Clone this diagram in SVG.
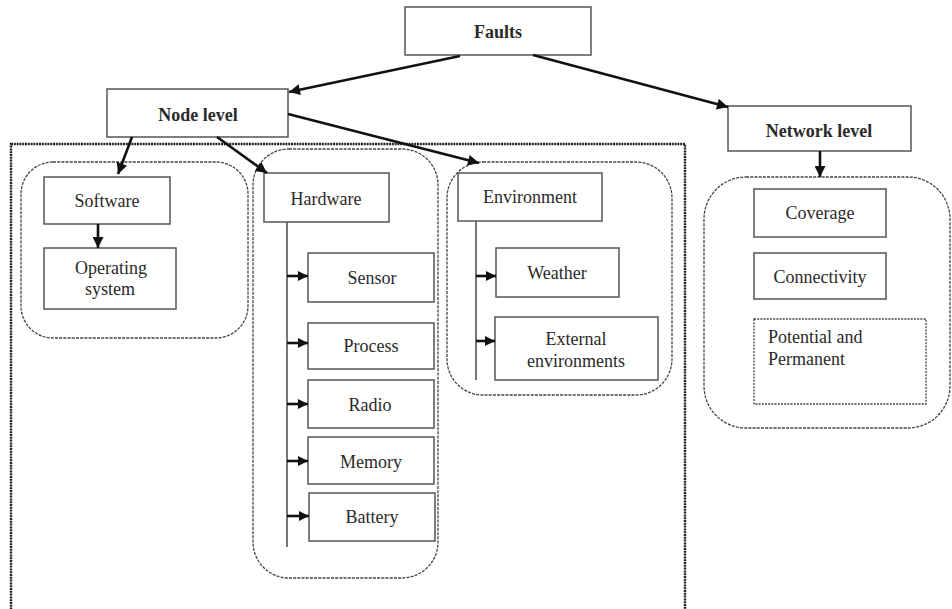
<svg xmlns="http://www.w3.org/2000/svg" width="952" height="609" viewBox="0 0 952 609" font-family="'Liberation Serif', 'DejaVu Serif', serif">
<style>
.box{fill:#fff;stroke:#555;stroke-width:1.5}
.grp{fill:none;stroke:#444;stroke-width:1.3;stroke-dasharray:3 1.2}
.outer{fill:none;stroke:#222;stroke-width:2.4;stroke-dasharray:2 0.8}
.dbox{fill:#fff;stroke:#444;stroke-width:1.3;stroke-dasharray:2 1.2}
text{font-family:'Liberation Serif','DejaVu Serif',serif}
.t{font-size:18px;fill:#2a2a2a;text-anchor:middle}
.b{font-weight:bold}
.l{text-anchor:start}
.c{stroke:#111;stroke-width:2.6;fill:none;marker-end:url(#ah)}
.c2{stroke:#111;stroke-width:2.6;fill:none;marker-end:url(#ah2)}
.v{stroke:#555;stroke-width:1.6;fill:none}
</style>
<defs>
<marker id="ah" viewBox="0 0 10 10" refX="10" refY="5" markerWidth="13" markerHeight="11" markerUnits="userSpaceOnUse" orient="auto"><path d="M0,0 L10,5 L0,10 z" fill="#111"/></marker>
<marker id="ah2" viewBox="0 0 10 10" refX="10" refY="5" markerWidth="10" markerHeight="10" markerUnits="userSpaceOnUse" orient="auto"><path d="M0,0 L10,5 L0,10 z" fill="#111"/></marker>
</defs>

<rect class="outer" x="11" y="144" width="674" height="480"/>

<g id="faults"><rect class="box" x="405" y="7" width="186" height="48"/><text class="t b" x="498" y="38">Faults</text></g>
<g id="node-level"><rect class="box" x="107" y="89" width="181" height="48"/><text class="t b" x="198" y="121">Node level</text></g>
<g id="network-level"><rect class="box" x="728" y="106" width="183" height="45"/><text class="t b" x="819" y="137">Network level</text></g>

<g id="software-group"><rect class="grp" x="21" y="162" width="227" height="176" rx="32"/></g>
<g id="software"><rect class="box" x="44" y="177" width="126" height="47"/><text class="t" x="107" y="207">Software</text></g>
<g id="operating-system"><rect class="box" x="44" y="248" width="132" height="61"/><text class="t" x="111" y="274">Operating</text><text class="t" x="110" y="295">system</text></g>

<g id="hardware-group"><rect class="grp" x="253" y="149" width="185" height="429" rx="36"/></g>
<g id="hardware"><rect class="box" x="264" y="173" width="125" height="49"/><text class="t" x="326" y="205">Hardware</text></g>
<g id="sensor"><rect class="box" x="308" y="253" width="126" height="49"/><text class="t" x="372" y="284">Sensor</text></g>
<g id="process"><rect class="box" x="308" y="323" width="126" height="46"/><text class="t" x="371" y="352">Process</text></g>
<g id="radio"><rect class="box" x="308" y="380" width="126" height="48"/><text class="t" x="370" y="411">Radio</text></g>
<g id="memory"><rect class="box" x="308" y="437" width="126" height="47"/><text class="t" x="371" y="468">Memory</text></g>
<g id="battery"><rect class="box" x="309" y="493" width="126" height="48"/><text class="t" x="372" y="523">Battery</text></g>

<g id="environment-group"><rect class="grp" x="447" y="162" width="225" height="233" rx="36"/></g>
<g id="environment"><rect class="box" x="458" y="173" width="144" height="48"/><text class="t" x="530" y="203">Environment</text></g>
<g id="weather"><rect class="box" x="496" y="248" width="123" height="49"/><text class="t" x="557" y="279">Weather</text></g>
<g id="external"><rect class="box" x="495" y="317" width="163" height="63"/><text class="t" x="576" y="345">External</text><text class="t" x="576" y="367">environments</text></g>

<g id="network-group"><rect class="grp" x="704" y="177" width="246" height="251" rx="42"/></g>
<g id="coverage"><rect class="box" x="754" y="189" width="132" height="48"/><text class="t" x="820" y="219">Coverage</text></g>
<g id="connectivity"><rect class="box" x="754" y="253" width="132" height="46"/><text class="t" x="820" y="283">Connectivity</text></g>
<g id="potential"><rect class="dbox" x="754" y="319" width="172" height="85"/><text class="t l" x="768" y="343">Potential and</text><text class="t l" x="768" y="365">Permanent</text></g>

<g id="connectors">
<line class="c" x1="460" y1="56" x2="289" y2="92"/>
<line class="c" x1="533" y1="55" x2="728" y2="107"/>
<line class="c" x1="288" y1="114" x2="479" y2="163"/>
<line class="c" x1="132" y1="137" x2="118" y2="174"/>
<line class="c" x1="217" y1="137" x2="267" y2="173"/>
<line class="c" x1="820" y1="151" x2="820" y2="177"/>
<line class="c" x1="98" y1="224" x2="98" y2="248"/>
<line class="v" x1="287" y1="222" x2="287" y2="547"/>
<line class="c2" x1="287" y1="276" x2="308" y2="276"/>
<line class="c2" x1="287" y1="343" x2="308" y2="343"/>
<line class="c2" x1="287" y1="404" x2="308" y2="404"/>
<line class="c2" x1="287" y1="461" x2="308" y2="461"/>
<line class="c2" x1="287" y1="516" x2="309" y2="516"/>
<line class="v" x1="476" y1="221" x2="476" y2="380"/>
<line class="c2" x1="476" y1="276" x2="496" y2="276"/>
<line class="c2" x1="476" y1="341" x2="495" y2="341"/>
</g>
</svg>
